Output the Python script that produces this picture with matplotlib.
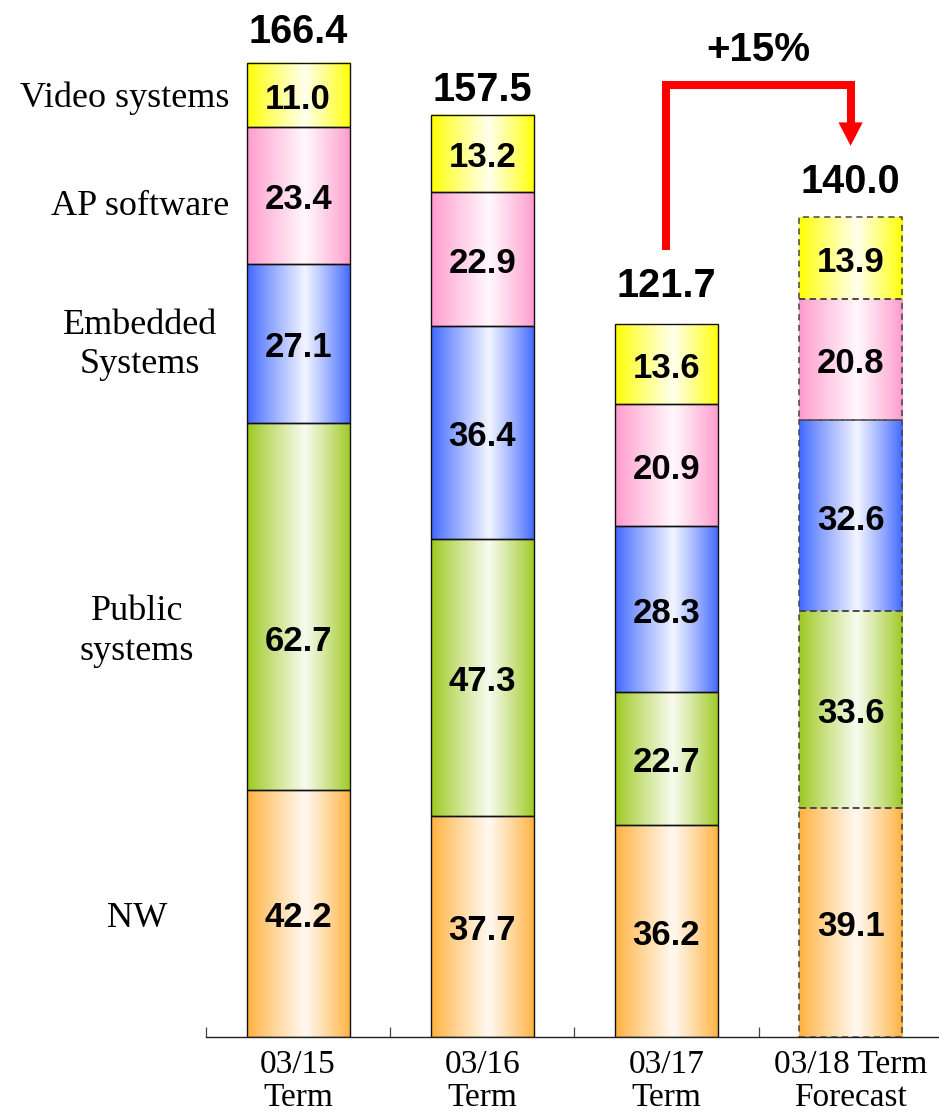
import numpy as np
import matplotlib
matplotlib.use("Agg")
import matplotlib.pyplot as plt
from matplotlib import transforms
from matplotlib.patches import Polygon
from matplotlib.colors import to_rgb

# ---------------- data ----------------
periods = ["03/15\nTerm", "03/16\nTerm", "03/17\nTerm", "03/18 Term\nForecast"]
segment_names = ["NW", "Public\nsystems", "Embedded\nSystems", "AP software", "Video systems"]
nw = [42.2, 37.7, 36.2, 39.1]
public = [62.7, 47.3, 22.7, 33.6]
embedded = [27.1, 36.4, 28.3, 32.6]
ap_software = [23.4, 22.9, 20.9, 20.8]
video = [11.0, 13.2, 13.6, 13.9]
growth_label = "+15%"

series = [nw, public, embedded, ap_software, video]
colors = ["#FFB03C", "#9CC81E", "#3F66FF", "#FF99CC", "#FFFF00"]
totals = [sum(v) for v in zip(*series)]

# ---------------- figure ----------------
W, H = 939, 1116
fig = plt.figure(figsize=(W / 100, H / 100), dpi=100)
ax = fig.add_axes([206 / W, 79 / H, 733 / W, 1037 / H])

serif = ["Liberation Serif", "DejaVu Serif"]
sans = ["Liberation Sans", "DejaVu Sans"]

bar_w = 0.56
total_offsets_px = [31, 25, 38, 35]   # layout: gap between bar top and total label centre


def gradient(color, n=256, center=0.56, wmax=0.93):
    c = np.array(to_rgb(color))
    t = np.linspace(0, 1, n)
    d = np.where(t < center, (center - t) / center, (t - center) / (1 - center))
    w = wmax * (1 - d) ** 0.9
    img = c[None, :] * (1 - w[:, None]) + np.ones(3)[None, :] * w[:, None]
    return img[None, :, :]


for i in range(len(periods)):
    bottom = 0.0
    forecast = i == len(periods) - 1
    for s, vals in enumerate(series):
        v = vals[i]
        ax.imshow(gradient(colors[s]), extent=(i - bar_w / 2, i + bar_w / 2, bottom, bottom + v),
                  aspect="auto", interpolation="bilinear", zorder=2)
        if forecast:
            ax.bar(i, v, bottom=bottom, width=bar_w, facecolor="none", edgecolor="#444444",
                   linewidth=1.1, linestyle=(0, (4, 3)), zorder=3)
        else:
            ax.bar(i, v, bottom=bottom, width=bar_w, facecolor="none", edgecolor="#111111",
                   linewidth=1.0, zorder=3)
        yoff = -5.3 if (i == 0 and s == 1) else 0.0
        ax.annotate(f"{v:.1f}", (i, bottom + v / 2 + yoff), xytext=(0, -3),
                    textcoords="offset points", ha="center", va="center",
                    fontsize=25, fontweight="bold", family=sans, zorder=4)
        bottom += v
    ax.annotate(f"{totals[i]:.1f}", (i, totals[i]), xytext=(0, total_offsets_px[i] * 0.72),
                textcoords="offset points", ha="center", va="center",
                fontsize=28.5, fontweight="bold", family=sans)

# segment labels on the left, aligned with the first bar's segments
trans = transforms.blended_transform_factory(fig.transFigure, ax.transData)
cum = np.cumsum([0] + [vals[0] for vals in series])
label_specs = [  # x (fig fraction), alignment, vertical shift (data units)
    (137 / W, "center", -0.8),
    (137 / W, "center", -4.3),
    (140 / W, "center", -0.3),
    (229 / W, "right", -1.8),
    (229 / W, "right", -0.6),
]
for s, name in enumerate(segment_names):
    x, ha, dy = label_specs[s]
    y = (cum[s] + cum[s + 1]) / 2 + dy
    fig.text(x, y, name, transform=trans, ha=ha, va="center", multialignment="center",
             fontsize=26, family=serif, linespacing=1.25)

# growth arrow
arrow_y = 162.6
ax.plot([2, 2, 3, 3], [134.4, arrow_y, arrow_y, 155.8], color="#FF0000", lw=5.8,
        solid_joinstyle="miter", solid_capstyle="butt", zorder=5, clip_on=False)
ax.add_patch(Polygon([(3 - 0.066, 156.2), (3 + 0.066, 156.2), (3, 152.2)], closed=True,
                     facecolor="#FF0000", edgecolor="none", zorder=5))
ax.text(2.5, 168.5, growth_label, ha="center", va="center", fontsize=29,
        fontweight="bold", family=sans)

# axes styling
ax.set_xlim(-0.5, 3.48)
ax.set_ylim(0, 177.1)
for sp in ["left", "right", "top"]:
    ax.spines[sp].set_visible(False)
ax.spines["bottom"].set_linewidth(1.0)
ax.spines["bottom"].set_color("#222222")
ax.set_yticks([])
ax.set_xticks(range(len(periods)))
ax.set_xticklabels(periods, fontsize=24, family=serif, linespacing=1.12)
ax.tick_params(axis="x", which="major", length=0, pad=9)
ax.set_xticks([-0.5, 0.5, 1.5, 2.5], minor=True)
ax.tick_params(axis="x", which="minor", direction="in", length=7, width=0.9, color="#444444")

fig.savefig("out.png", dpi=100)
